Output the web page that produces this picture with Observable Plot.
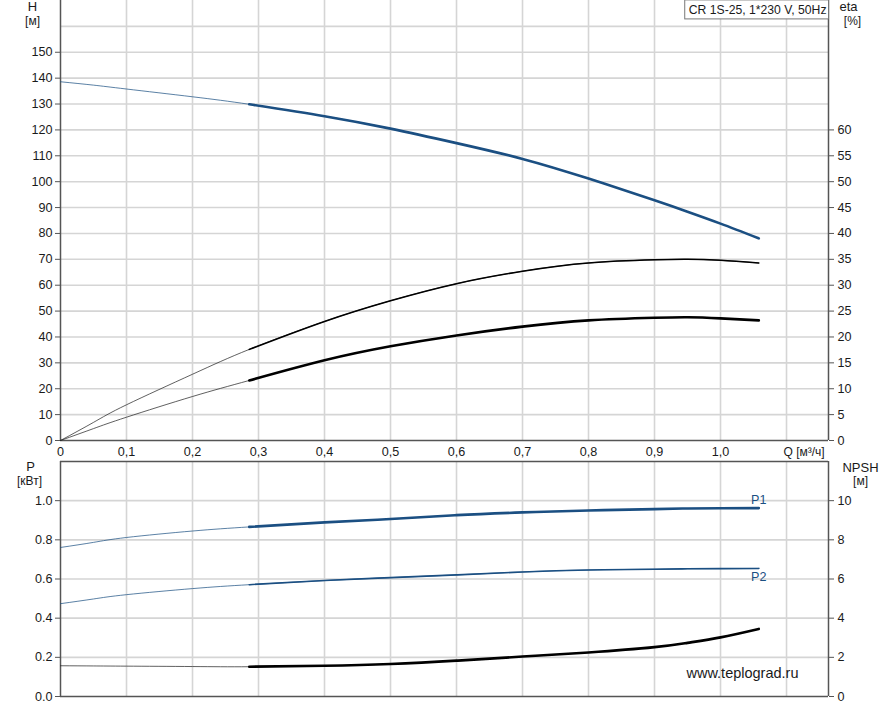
<!DOCTYPE html>
<html>
<head>
<meta charset="utf-8">
<script src="https://cdn.jsdelivr.net/npm/d3@7"></script>
<script src="https://cdn.jsdelivr.net/npm/@observablehq/plot@0.6"></script>
<style>
  html, body { margin: 0; padding: 0; background: #fff; }
  #chart svg { display: block; }
</style>
</head>
<body>
<div id="chart"></div>
<script>
// ---- Data ----
const Q    = [0, 0.05, 0.1, 0.2, 0.286, 0.4, 0.5, 0.6, 0.7, 0.8, 0.9, 0.95, 1.0, 1.058];
const H    = [138.6, 137.3, 135.8, 132.8, 129.9, 125.3, 120.5, 114.9, 108.8, 101.2, 92.8, 88.4, 83.8, 78.1];
const etaA = [0, 3.5, 6.9, 12.8, 17.6, 23.0, 27.0, 30.3, 32.7, 34.3, 34.9, 35.0, 34.8, 34.3];
const etaB = [0, 2.3, 4.5, 8.5, 11.6, 15.5, 18.2, 20.3, 22.0, 23.2, 23.7, 23.8, 23.6, 23.2];
const P1   = [0.761, 0.787, 0.812, 0.845, 0.866, 0.889, 0.906, 0.926, 0.940, 0.950, 0.957, 0.960, 0.961, 0.962];
const P2   = [0.474, 0.498, 0.520, 0.551, 0.571, 0.592, 0.607, 0.621, 0.636, 0.646, 0.650, 0.652, 0.653, 0.654];
const NPSH = [1.57, 1.56, 1.55, 1.53, 1.52, 1.57, 1.66, 1.83, 2.04, 2.25, 2.52, 2.74, 3.02, 3.45];

const opStart = 0.286;          // start of operating range (thick lines)
const qMax = 1.1636;
const hMax = 170, etaMax = 85;  // eta axis shares the H frame
const pMax = 1.2, npshMax = 12; // NPSH axis shares the P frame

const qGrid     = [0.1,0.2,0.3,0.4,0.5,0.6,0.7,0.8,0.9,1.0,1.1];
const qTicks    = [0,0.1,0.2,0.3,0.4,0.5,0.6,0.7,0.8,0.9,1.0];
const hTicks    = [0,10,20,30,40,50,60,70,80,90,100,110,120,130,140,150];
const hGrid     = [10,20,30,40,50,60,70,80,90,100,110,120,130,140,150,160];
const etaTicks  = [0,5,10,15,20,25,30,35,40,45,50,55,60];
const pTicks    = [0,0.2,0.4,0.6,0.8,1.0];
const pGrid     = [0.2,0.4,0.6,0.8,1.0];
const npshTicks = [0,2,4,6,8,10];

const title = "CR 1S-25, 1*230 V, 50Hz";
const site = "www.teplograd.ru";

const kEta = hMax / etaMax;
const kNp = pMax / npshMax;

const rows = Q.map((q, i) => ({q, H: H[i], etaA: etaA[i] * kEta, etaB: etaB[i] * kEta,
  P1: P1[i], P2: P2[i], NPSH: NPSH[i] * kNp}));
const op = rows.filter(d => d.q >= opStart);
const last = rows[rows.length - 1];

const BLUE = "#1b4f82";
const AX = "#555";
const GRID = "#d5d5d5";
const TXT = "#1a1a1a";
const font = "'Liberation Sans', Arial, Helvetica, sans-serif";
const FS = 12.6;
const qFmt = d => d === 0 ? "0" : d.toFixed(1).replace(".", ",");

function thin(y, color) { return Plot.line(rows, {x: "q", y, stroke: color, strokeWidth: 0.9, strokeOpacity: 0.8, curve: "natural"}); }
function thick(y, color, w) { return Plot.line(op, {x: "q", y, stroke: color, strokeWidth: w, curve: "natural"}); }
function label(t, anchor, dx, dy, fs) {
  return Plot.text([t], {frameAnchor: anchor, textAnchor: "middle", lineAnchor: "middle", dx, dy, fontSize: fs, fill: TXT});
}

const topPlot = Plot.plot({
  width: 893, height: 460,
  marginLeft: 60, marginRight: 65, marginTop: 0, marginBottom: 20,
  style: {fontFamily: font, fontSize: FS + "px", color: TXT, background: "#fff", overflow: "visible"},
  x: {domain: [0, qMax], axis: null},
  y: {domain: [0, hMax], axis: null},
  marks: [
    Plot.gridX(qGrid, {stroke: GRID, strokeOpacity: 1, strokeWidth: 1.6}),
    Plot.gridY(hGrid, {stroke: GRID, strokeOpacity: 1, strokeWidth: 1.6}),
    Plot.axisY(hTicks, {anchor: "left", tickSize: 5, tickPadding: 3, label: null, stroke: AX, fill: TXT, tickFormat: d => d}),
    Plot.axisY(etaTicks.map(e => e * kEta), {anchor: "right", tickSize: 5, tickPadding: 4, label: null, stroke: AX, fill: TXT, tickFormat: d => Math.round(d / kEta)}),
    Plot.axisX(qTicks, {anchor: "bottom", tickSize: 0, tickPadding: 7, label: null, fill: TXT, tickFormat: qFmt}),
    Plot.axisX([1.1], {anchor: "bottom", tickSize: 0, tickPadding: 7, label: null, fill: TXT, textAnchor: "start", dx: -3, fontSize: 12, tickFormat: () => "Q [м³/ч]"}),
    Plot.ruleY([0], {stroke: AX, strokeWidth: 1.5}),
    Plot.ruleX([0], {stroke: AX, strokeWidth: 1.5}),
    Plot.ruleX([qMax], {stroke: AX, strokeWidth: 1.5}),
    thin("H", BLUE), thin("etaA", "#222"), thin("etaB", "#222"),
    thick("H", BLUE, 2.6), thick("etaA", "#000", 1.5), thick("etaB", "#000", 2.6),
    label("H", "top-left", -28, 6.5, 13),
    label("[м]", "top-left", -28, 20.5, 12),
    label("eta", "top-right", 20, 6.5, 13),
    label("[%]", "top-right", 24, 20.5, 12),
    Plot.text([title], {frameAnchor: "top-right", textAnchor: "end", lineAnchor: "middle", dx: -2, dy: 9.5, fontSize: 12.2, fill: TXT})
  ]
});

const botPlot = Plot.plot({
  width: 893, height: 245,
  marginLeft: 60, marginRight: 65, marginTop: 1, marginBottom: 9,
  style: {fontFamily: font, fontSize: FS + "px", color: TXT, background: "#fff", overflow: "visible"},
  x: {domain: [0, qMax], axis: null},
  y: {domain: [0, pMax], axis: null},
  marks: [
    Plot.gridX(qGrid, {stroke: GRID, strokeOpacity: 1, strokeWidth: 1.6}),
    Plot.gridY(pGrid, {stroke: GRID, strokeOpacity: 1, strokeWidth: 1.6}),
    Plot.axisY(pTicks, {anchor: "left", tickSize: 5, tickPadding: 3, label: null, stroke: AX, fill: TXT, tickFormat: d => d.toFixed(1)}),
    Plot.axisY(npshTicks.map(n => n * kNp), {anchor: "right", tickSize: 5, tickPadding: 4, label: null, stroke: AX, fill: TXT, tickFormat: d => Math.round(d / kNp)}),
    Plot.ruleY([0], {stroke: AX, strokeWidth: 1.5}),
    Plot.ruleY([pMax], {stroke: AX, strokeWidth: 1.5}),
    Plot.ruleX([0], {stroke: AX, strokeWidth: 1.5}),
    Plot.ruleX([qMax], {stroke: AX, strokeWidth: 1.5}),
    thin("P1", BLUE), thin("P2", BLUE), thin("NPSH", "#222"),
    thick("P1", BLUE, 2.6), thick("P2", BLUE, 1.6), thick("NPSH", "#000", 2.6),
    Plot.text([last], {x: "q", y: "P1", text: () => "P1", dy: -8, fill: BLUE, fontSize: 12.6}),
    Plot.text([last], {x: "q", y: "P2", text: () => "P2", dy: 9, fill: BLUE, fontSize: 12.6}),
    label("P", "top-left", -30, 5.5, 13),
    label("[кВт]", "top-left", -31, 20, 12),
    label("NPSH", "top-right", 32, 6, 13),
    label("[м]", "top-right", 32, 19.5, 12),
    Plot.text([site], {frameAnchor: "bottom-right", textAnchor: "end", lineAnchor: "middle", dx: -30, dy: -23, fontSize: 14.5, fill: TXT})
  ]
});

const root = document.getElementById("chart");
root.appendChild(topPlot);
root.appendChild(botPlot);

// box around the model title
d3.select(topPlot).selectAll("text").each(function() {
  if (this.textContent === title) {
    const b = this.getBBox();
    const tr = this.getAttribute("transform");
    const el = this;
    const r = d3.select(el.parentNode).insert("rect", () => el)
      .attr("x", b.x - 4).attr("y", b.y - 3)
      .attr("width", b.width + 6).attr("height", b.height + 5)
      .attr("fill", "#fff").attr("stroke", "#777").attr("stroke-width", 1);
    if (tr) r.attr("transform", tr);
  }
});
</script>
</body>
</html>
